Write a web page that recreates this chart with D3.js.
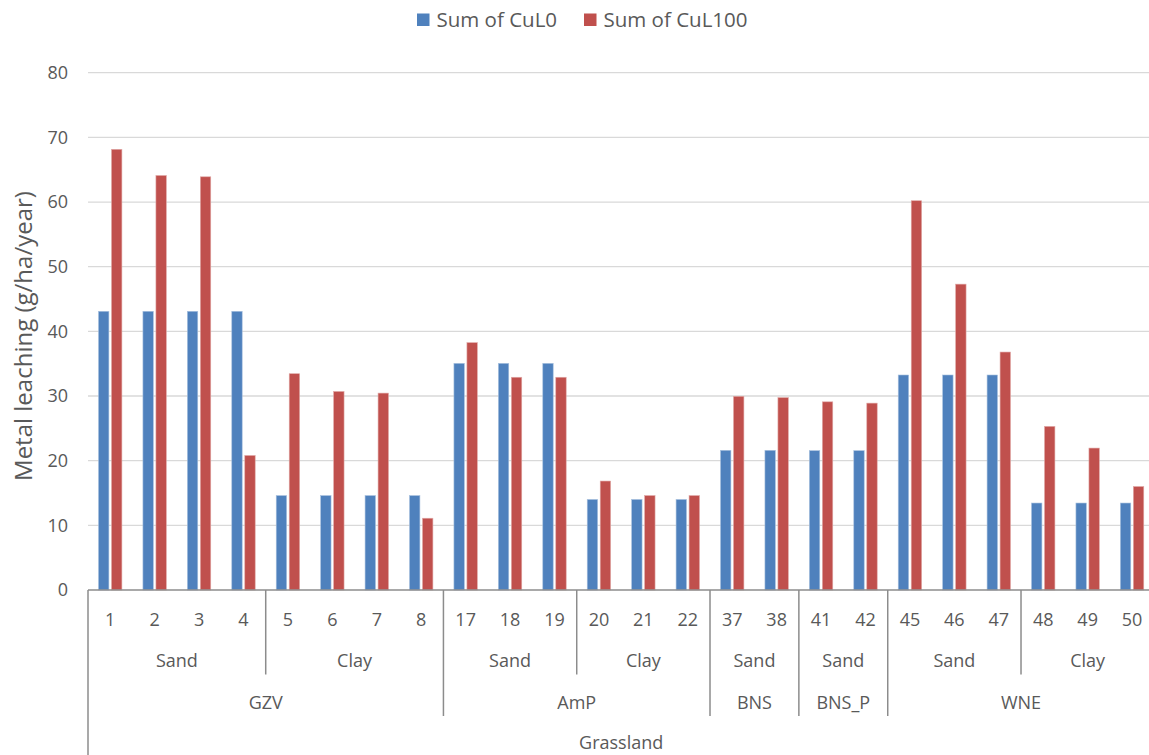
<!DOCTYPE html>
<html>
<head>
<meta charset="utf-8">
<script src="https://cdn.jsdelivr.net/npm/d3@7"></script>
<style>
  html, body { margin: 0; padding: 0; background: #fff; }
  svg { display: block; }
  text { font-family: "Open Sans", "Noto Sans", sans-serif; fill: #595959; }
</style>
</head>
<body>
<svg id="chart" width="1149" height="755"></svg>
<script>
// ---- data ----
const categories = ['1','2','3','4','5','6','7','8','17','18','19','20','21','22','37','38','41','42','45','46','47','48','49','50'];
const cuL0   = [43.1,43.1,43.1,43.1,14.6,14.6,14.6,14.6,35.05,35.05,35.05,14.0,14.0,14.0,21.6,21.6,21.55,21.55,33.25,33.25,33.25,13.45,13.45,13.45];
const cuL100 = [68.15,64.1,63.9,20.8,33.45,30.7,30.45,11.1,38.25,32.9,32.9,16.85,14.6,14.6,29.95,29.75,29.1,28.9,60.2,47.3,36.8,25.3,21.95,16.0];
const soilTypes = ['Sand','Sand','Sand','Sand','Clay','Clay','Clay','Clay','Sand','Sand','Sand','Clay','Clay','Clay','Sand','Sand','Sand','Sand','Sand','Sand','Sand','Clay','Clay','Clay'];
const sites = ['GZV','GZV','GZV','GZV','GZV','GZV','GZV','GZV','AmP','AmP','AmP','AmP','AmP','AmP','BNS','BNS','BNS_P','BNS_P','WNE','WNE','WNE','WNE','WNE','WNE'];
const landUses = categories.map(() => 'Grassland');
const seriesNames = ['Sum of CuL0', 'Sum of CuL100'];
const seriesColors = ['#4F81BD', '#C0504D'];
const yTicks = [0,10,20,30,40,50,60,70,80];
const yTitle = 'Metal leaching (g/ha/year)';

// ---- layout ----
const svg = d3.select('#chart');
const plotLeft = 88, plotRight = 1154.3, plotTop = 72.7, plotBottom = 590;

const x0 = d3.scaleBand().domain(categories).range([plotLeft, plotRight]).padding(0);
const x1 = d3.scaleBand().domain([0, 1]).range([10.5, 33.9]).paddingInner(0.2).paddingOuter(0);
const y = d3.scaleLinear().domain([0, 80]).range([plotBottom, plotTop]);

// gridlines
svg.append('g').selectAll('line').data(yTicks.filter(t => t > 0)).join('line')
  .attr('x1', plotLeft).attr('x2', 1149)
  .attr('y1', d => y(d)).attr('y2', d => y(d))
  .attr('stroke', '#D9D9D9').attr('stroke-width', 1.3);

// y tick labels via axis
const yAxis = svg.append('g').attr('transform', `translate(${plotLeft},0)`)
  .call(d3.axisLeft(y).tickValues(yTicks).tickSize(0).tickPadding(20));
yAxis.select('.domain').remove();
yAxis.selectAll('text').style('font-size', '18px').attr('fill', '#595959')
  .style('font-family', '"Open Sans", sans-serif');

// bars
const rows = categories.map((c, i) => ({ cat: c, vals: [cuL0[i], cuL100[i]] }));
const groups = svg.append('g').selectAll('g').data(rows).join('g')
  .attr('transform', d => `translate(${x0(d.cat)},0)`);
groups.selectAll('rect').data(d => d.vals.map((v, k) => ({ v, k }))).join('rect')
  .attr('x', d => x1(d.k))
  .attr('width', x1.bandwidth())
  .attr('y', d => y(d.v))
  .attr('height', d => y(0) - y(d.v))
  .attr('fill', d => seriesColors[d.k])
  .attr('stroke', d => d.k === 0 ? '#A7C0DE' : '#E0A8A6')
  .attr('stroke-width', 0.6);

// x axis baseline
svg.append('line').attr('x1', plotLeft).attr('x2', 1149).attr('y1', y(0)).attr('y2', y(0))
  .attr('stroke', '#8C8C8C').attr('stroke-width', 1.3);

// category labels
svg.append('g').selectAll('text').data(categories).join('text')
  .attr('x', d => x0(d) + x0.bandwidth() / 2)
  .attr('y', 625.5)
  .attr('text-anchor', 'middle')
  .style('font-size', '18px')
  .text(d => d);

// runs for multi-level labels
function runs(keyFn) {
  const out = [];
  categories.forEach((c, i) => {
    const k = keyFn(i);
    if (out.length && out[out.length - 1].key === k) out[out.length - 1].end = i;
    else out.push({ key: k, start: i, end: i, label: null });
  });
  return out;
}
const soilRuns = runs(i => landUses[i] + '|' + sites[i] + '|' + soilTypes[i]);
soilRuns.forEach(r => r.label = soilTypes[r.start]);
const siteRuns = runs(i => landUses[i] + '|' + sites[i]);
siteRuns.forEach(r => r.label = sites[r.start]);
const luRuns = runs(i => landUses[i]);
luRuns.forEach(r => r.label = landUses[r.start]);

const span = r => [x0(categories[r.start]), x0(categories[r.end]) + x0.bandwidth()];

function drawLabels(rs, yBase) {
  svg.append('g').selectAll('text').data(rs).join('text')
    .attr('x', d => { const s = span(d); return (s[0] + s[1]) / 2; })
    .attr('y', yBase)
    .attr('text-anchor', 'middle')
    .style('font-size', '18px')
    .text(d => d.label);
}
drawLabels(soilRuns, 667);
drawLabels(siteRuns, 708.5);
drawLabels(luRuns, 749);

// separators
const sepDepth = { soil: 674.5, site: 716, lu: 755 };
const seps = [];
soilRuns.forEach(r => {
  const i = r.start;
  let depth = sepDepth.soil;
  if (i === 0 || landUses[i] !== landUses[i - 1]) depth = sepDepth.lu;
  else if (sites[i] !== sites[i - 1]) depth = sepDepth.site;
  seps.push({ x: x0(categories[i]), depth });
});
seps.push({ x: plotRight, depth: sepDepth.lu });
svg.append('g').selectAll('line').data(seps).join('line')
  .attr('x1', d => d.x).attr('x2', d => d.x)
  .attr('y1', y(0)).attr('y2', d => d.depth)
  .attr('stroke', '#8C8C8C').attr('stroke-width', 1.5);

// y title
svg.append('text')
  .attr('transform', `translate(32,336) rotate(-90)`)
  .attr('text-anchor', 'middle')
  .style('font-size', '24px')
  .text(yTitle);

// legend
const legendX = [417, 584];
const lg = svg.append('g').selectAll('g').data(seriesNames).join('g')
  .attr('transform', (d, i) => `translate(${legendX[i]},0)`);
lg.append('rect').attr('x', 0).attr('y', 13.5).attr('width', 12.5).attr('height', 12.5)
  .attr('fill', (d, i) => seriesColors[i]);
lg.append('text').attr('x', 19.5).attr('y', 26.5).style('font-size', '20.5px').text(d => d);
</script>
</body>
</html>
